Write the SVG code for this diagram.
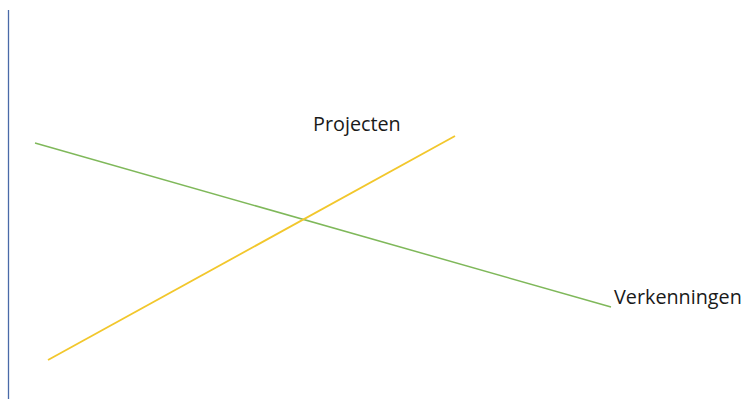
<svg xmlns="http://www.w3.org/2000/svg" width="742" height="399" viewBox="0 0 742 399">
<style>
.lbl{font-family:"Open Sans","Liberation Sans",sans-serif;font-size:19.8px;fill:#1a1a1a}
</style>
<rect width="742" height="399" fill="#ffffff"/>
<g id="connectors">
<line x1="8.5" y1="10" x2="8.5" y2="399" stroke="#4a6aa8" stroke-width="1.3"/>
<line x1="35" y1="143" x2="611" y2="307" stroke="#7fb85a" stroke-width="1.5"/>
<line x1="48" y1="360" x2="455" y2="136" stroke="#f2c72c" stroke-width="1.8"/>
</g>
<g id="projecten"><text class="lbl" x="313" y="131">Projecten</text></g>
<g id="verkenningen"><text class="lbl" x="614" y="304">Verkenningen</text></g>
</svg>
